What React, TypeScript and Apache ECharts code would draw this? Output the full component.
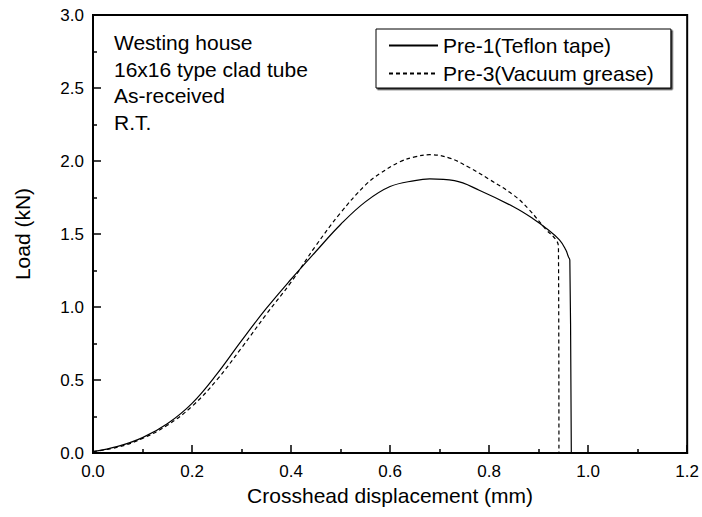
import React, { useEffect, useRef } from "react";
import * as echarts from "echarts";

const pre1X = [0.0, 0.05, 0.1, 0.15, 0.2, 0.25, 0.3, 0.35, 0.4, 0.45, 0.5, 0.55, 0.6, 0.65, 0.68, 0.73, 0.78, 0.85, 0.888, 0.915, 0.942, 0.955, 0.96, 0.963, 0.966];
const pre1Y = [0.01, 0.045, 0.105, 0.2, 0.34, 0.54, 0.77, 0.99, 1.19, 1.38, 1.565, 1.72, 1.825, 1.866, 1.877, 1.865, 1.8, 1.685, 1.607, 1.54, 1.46, 1.39, 1.345, 1.32, 0.0];

const pre3X = [0.0, 0.05, 0.1, 0.15, 0.2, 0.25, 0.3, 0.35, 0.4, 0.45, 0.5, 0.55, 0.58, 0.62, 0.65, 0.68, 0.72, 0.76, 0.8, 0.85, 0.88, 0.915, 0.935, 0.94, 0.941];
const pre3Y = [0.01, 0.04, 0.1, 0.19, 0.32, 0.5, 0.72, 0.95, 1.17, 1.42, 1.645, 1.835, 1.915, 1.995, 2.028, 2.043, 2.02, 1.955, 1.875, 1.765, 1.67, 1.53, 1.46, 1.41, 0.0];

const seriesNames = ["Pre-1(Teflon tape)", "Pre-3(Vacuum grease)"];
const noteLines = ["Westing house", "16x16 type clad tube", "As-received", "R.T."];
const xTitle = "Crosshead displacement (mm)";
const yTitle = "Load (kN)";

const FONT = "'Liberation Sans', Arial, Helvetica, sans-serif";

export default function App() {
  const ref = useRef<HTMLDivElement>(null);
  useEffect(() => {
    if (!ref.current) return;
    const chart = echarts.init(ref.current, null, { renderer: "svg" });
    const axisCommon = {
      axisLine: { show: true, onZero: false, lineStyle: { color: "#000", width: 2 } },
      axisTick: { show: true, inside: true, length: 8, lineStyle: { color: "#000", width: 1.5 } },
      minorTick: { show: true, splitNumber: 2, length: 4, lineStyle: { color: "#000", width: 1.5 } },
      splitLine: { show: false },
      minorSplitLine: { show: false },
    };
    chart.setOption({
      animation: false,
      backgroundColor: "#fff",
      textStyle: { fontFamily: FONT },
      grid: { left: 93, top: 15, right: 14, bottom: 64, show: true, borderColor: "#000", borderWidth: 2, backgroundColor: "transparent" },
      xAxis: {
        type: "value",
        min: 0,
        max: 1.2,
        interval: 0.2,
        ...axisCommon,
        axisLabel: { color: "#000", fontSize: 17, fontFamily: FONT, margin: 10, formatter: (v: number) => v.toFixed(1) },
        name: xTitle,
        nameLocation: "middle",
        nameGap: 29,
        nameTextStyle: { color: "#000", fontSize: 21, fontFamily: FONT },
      },
      yAxis: {
        type: "value",
        min: 0,
        max: 3,
        interval: 0.5,
        ...axisCommon,
        axisLabel: { color: "#000", fontSize: 17, fontFamily: FONT, margin: 9, formatter: (v: number) => v.toFixed(1) },
        name: yTitle,
        nameLocation: "middle",
        nameGap: 60,
        nameTextStyle: { color: "#000", fontSize: 21, fontFamily: FONT },
      },
      legend: {
        orient: "vertical",
        left: 376,
        top: 29,
        padding: [6, 17, 4, 12],
        itemWidth: 49,
        itemHeight: 14,
        itemGap: 7,
        itemTextGap: 6,
        borderColor: "#000",
        borderWidth: 1,
        backgroundColor: "#fff",
        shadowColor: "rgba(0,0,0,0.8)",
        shadowOffsetX: 1.5,
        shadowOffsetY: 1.5,
        shadowBlur: 0,
        itemStyle: { opacity: 0 },
        textStyle: { color: "#000", fontSize: 21, fontFamily: FONT, lineHeight: 21 },
        data: seriesNames,
      },
      graphic: [
        {
          type: "text",
          left: 114,
          top: 29,
          style: { text: noteLines.join("\n"), fontSize: 21, fontFamily: FONT, fill: "#000", lineHeight: 26.7 },
        },
      ],
      series: [
        {
          name: seriesNames[0],
          type: "line",
          data: pre1X.map((x, i) => [x, pre1Y[i]]),
          showSymbol: false,
          symbol: "none",
          smooth: 0.4,
          lineStyle: { color: "#000", width: 1.2, type: "solid" },
          itemStyle: { color: "#000" },
        },
        {
          name: seriesNames[1],
          type: "line",
          data: pre3X.map((x, i) => [x, pre3Y[i]]),
          showSymbol: false,
          symbol: "none",
          smooth: 0.4,
          lineStyle: { color: "#000", width: 1.2, type: [4, 3] },
          itemStyle: { color: "#000" },
        },
      ],
    });
    return () => chart.dispose();
  }, []);
  return <div ref={ref} style={{ width: 702, height: 517, position: "absolute", left: 0, top: 0 }} />;
}
